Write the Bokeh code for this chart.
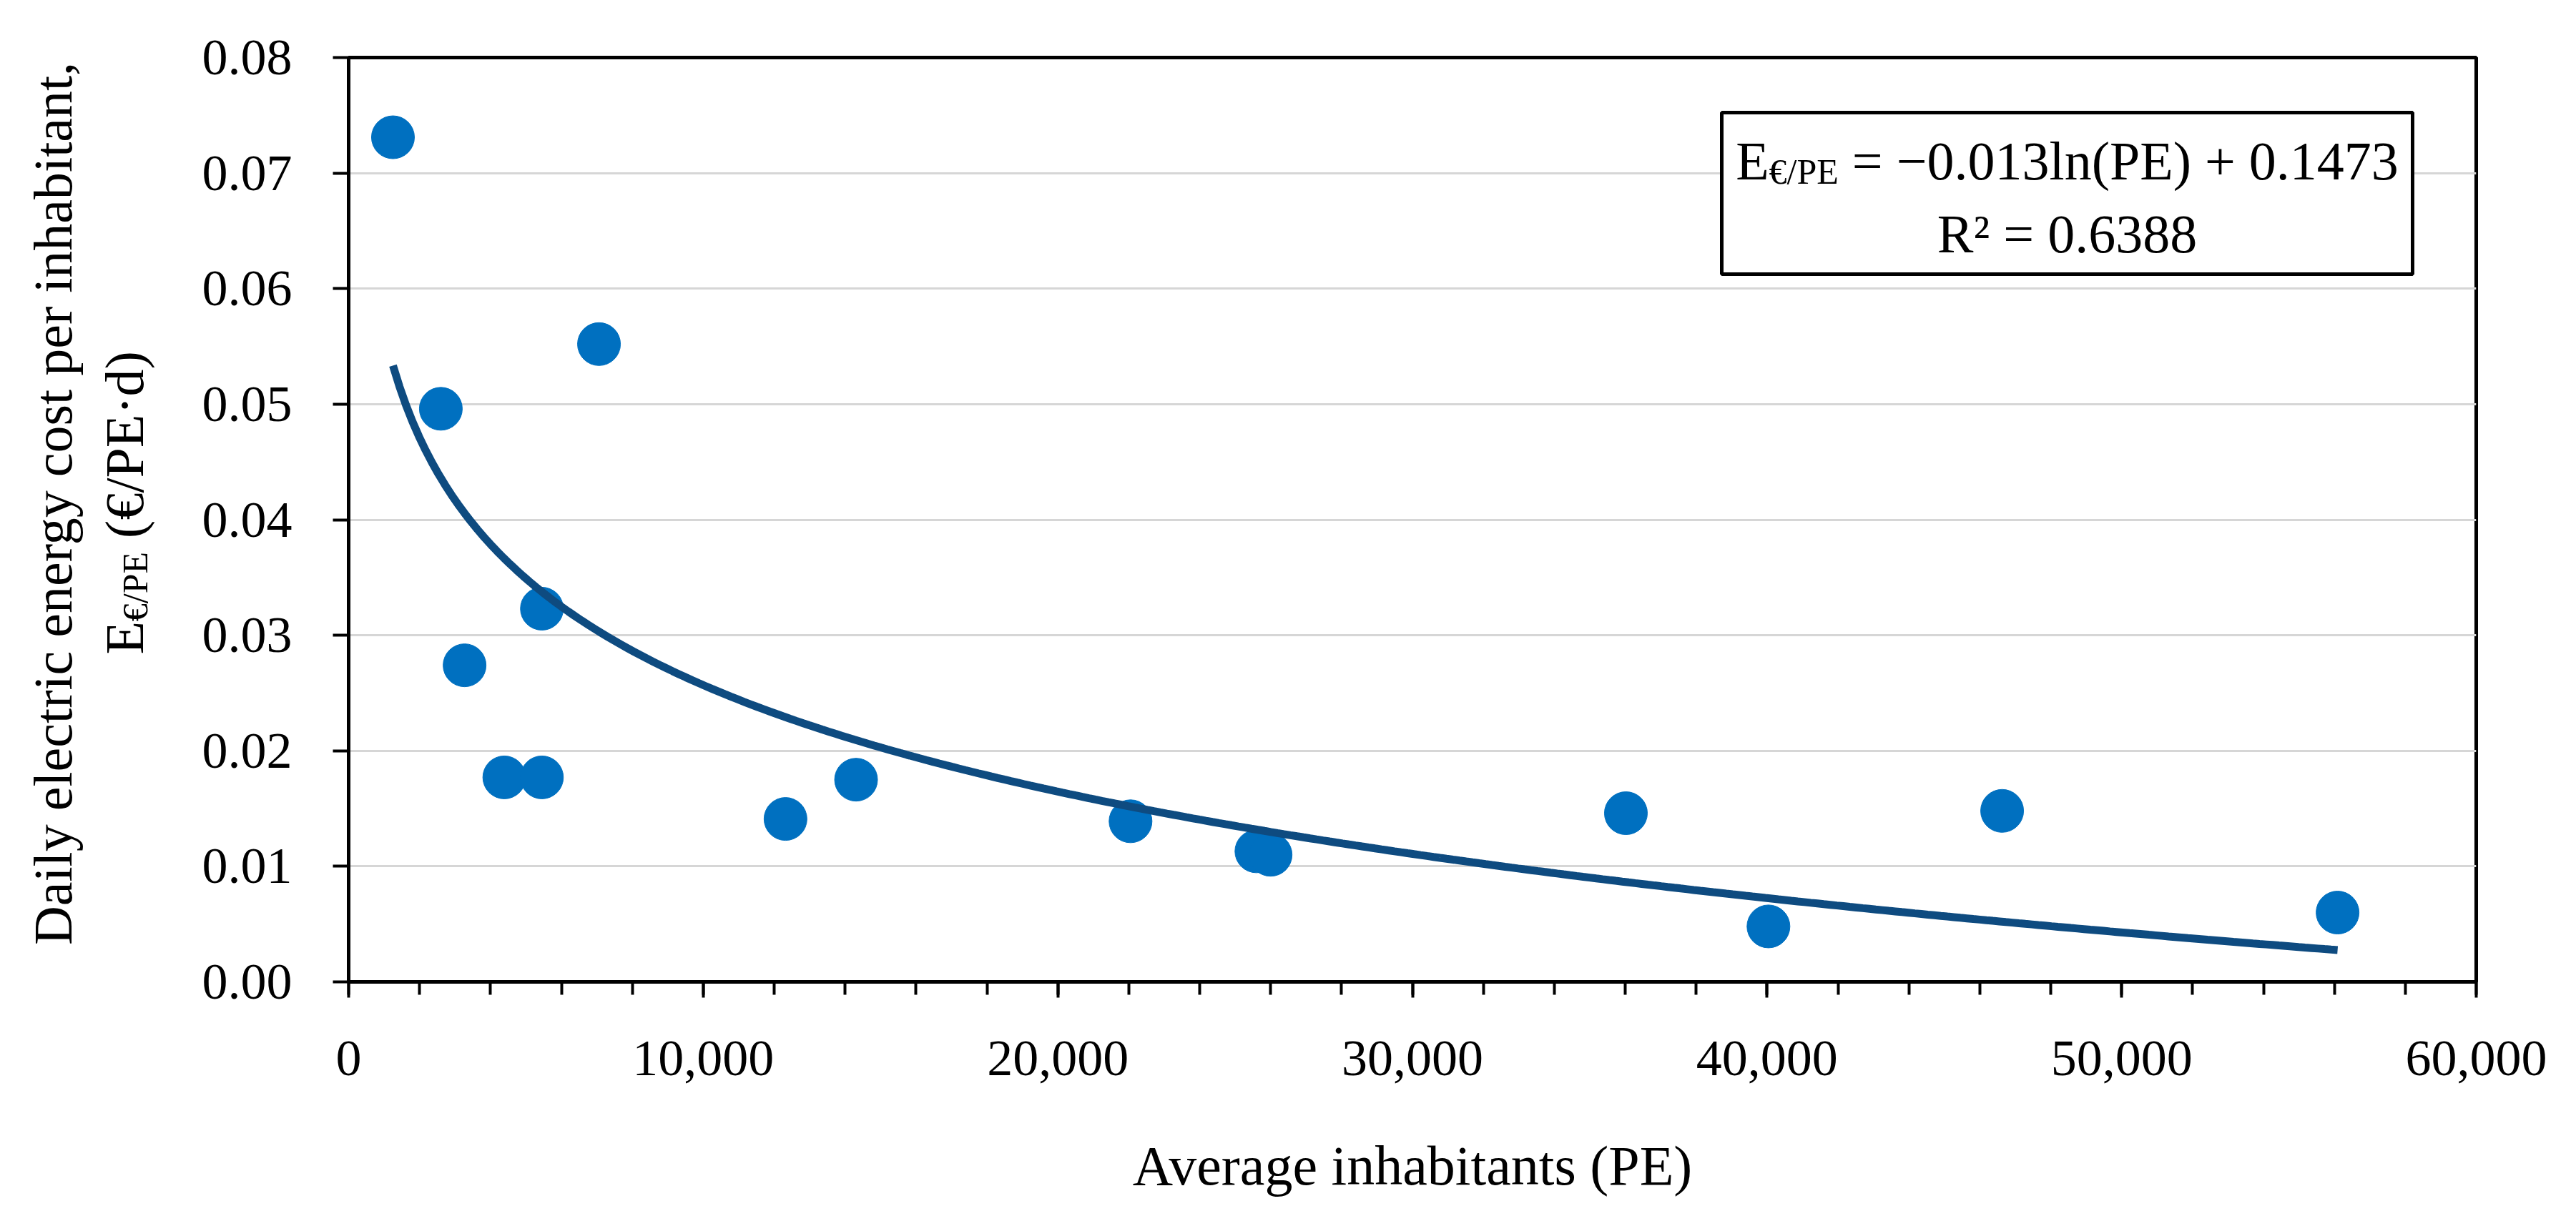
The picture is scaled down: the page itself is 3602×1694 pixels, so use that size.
import numpy as np
from math import pi
from bokeh.plotting import figure
from bokeh.layouts import row
from bokeh.models import (Range1d, SingleIntervalTicker, NumeralTickFormatter,
                          Label, BoxAnnotation, ColumnDataSource)
from bokeh.embed import file_html
from bokeh.resources import INLINE

# ---- data ----
pe = [1250, 2600, 3270, 4390, 5450, 5450, 7060, 12320, 14310,
      22050, 25600, 26000, 36020, 40040, 46630, 56090]
cost = [0.0731, 0.0496, 0.0274, 0.0177, 0.0177, 0.0323, 0.0552, 0.0141, 0.0175,
        0.0139, 0.0113, 0.0110, 0.0146, 0.0048, 0.0148, 0.0060]
x_ticks_interval = 10000
y_ticks_interval = 0.01
x_title = "Average inhabitants (PE)"
y_title_1 = "Daily electric energy cost per inhabitant,"
eq_main = "E"
eq_sub = "\u20ac/PE"
eq_rest = "\u00a0=\u00a0\u22120.013ln(PE)\u00a0+\u00a00.1473"
eq_r2 = "R\u00b2\u00a0=\u00a00.6388"
yt2_rest = "\u00a0(\u20ac/PE\u00b7d)"

# logarithmic trendline fitted to the points (as the spreadsheet does)
a, b = np.polyfit(np.log(pe), cost, 1)
trend_x = np.linspace(min(pe), max(pe), 300)
trend_y = a * np.log(trend_x) + b

# ---- layout geometry (page pixels) ----
W, H = 3586, 1678
LW = 232                       # width of the strip holding the y title
FL, FR, FT, FB = 487, 3462, 80, 1373
XMAX, YMAX = 60000, 0.08
FONT = "Liberation Serif"
BSHIFT = 24                    # correction: rendered baseline sits lower than anchor

def X(px):
    return (px - FL) / (FR - FL) * XMAX

def Y(py):
    return (FB - py) / (FB - FT) * YMAX

TW = {' ': .25, '\u00a0': .25, '(': .333, ')': .333, '\u20ac': .5, '/': .278,
      'P': .556, 'E': .611, '\u00b7': .25, 'd': .5, '=': .564, '\u2212': .564,
      '.': .25, 'l': .278, 'n': .5, '+': .564, 'R': .667, '\u00b2': .3}

def tw(s, size):
    return sum(TW.get(c, .5) for c in s) * size

# ---------------- main chart ----------------
p = figure(frame_width=FR - FL, frame_height=FB - FT,
           x_range=Range1d(0, XMAX), y_range=Range1d(0, YMAX),
           output_backend="svg", toolbar_location=None,
           min_border_left=FL - LW, min_border_right=W - FR,
           min_border_top=FT, min_border_bottom=H - FB)
p.background_fill_color = "white"
p.border_fill_color = "white"
p.outline_line_color = "black"
p.outline_line_width = 5

p.xgrid.visible = False
p.ygrid.grid_line_color = "#d6d6d6"
p.ygrid.grid_line_width = 3
p.ygrid.ticker = SingleIntervalTicker(interval=y_ticks_interval, num_minor_ticks=0)

p.xaxis.ticker = SingleIntervalTicker(interval=x_ticks_interval, num_minor_ticks=5)
p.yaxis.ticker = SingleIntervalTicker(interval=y_ticks_interval, num_minor_ticks=0)
p.xaxis.formatter = NumeralTickFormatter(format="0,0")
p.yaxis.formatter = NumeralTickFormatter(format="0.00")

for ax in (p.xaxis[0], p.yaxis[0]):
    ax.axis_line_color = "black"
    ax.axis_line_width = 5
    ax.major_tick_line_color = "black"
    ax.major_tick_line_width = 4
    ax.major_tick_in = 0
    ax.major_tick_out = 22
    ax.minor_tick_line_color = "black"
    ax.minor_tick_line_width = 4
    ax.minor_tick_in = 0
    ax.minor_tick_out = 18
    ax.major_label_text_font = FONT
    ax.major_label_text_font_size = "72px"
    ax.major_label_text_color = "black"

p.yaxis.major_label_standoff = 57
p.xaxis.major_label_standoff = 61
p.xaxis.axis_label = x_title
p.xaxis.axis_label_text_font = FONT
p.xaxis.axis_label_text_font_style = "normal"
p.xaxis.axis_label_text_font_size = "78px"
p.xaxis.axis_label_text_color = "black"
p.xaxis.axis_label_standoff = 80

src = ColumnDataSource(dict(pe=pe, cost=cost))
p.scatter("pe", "cost", source=src, size=60, fill_color="#0070C0",
          line_color="#0070C0", line_width=1)
p.line(trend_x, trend_y, line_color="#0E4B80", line_width=11)

# ---- equation box ----
BL, BR, BT, BB = 2407, 3373, 157, 383
M, S = 76, 50
p.add_layout(BoxAnnotation(left=X(BL), right=X(BR), top=Y(BT), bottom=Y(BB),
                           fill_color="white", fill_alpha=1.0,
                           line_color="black", line_width=5, line_alpha=1.0))
cx = (BL + BR) / 2
wE2, wS2, wR2 = tw(eq_main, M), tw(eq_sub, S), tw(eq_rest, M)
x0 = cx - (wE2 + wS2 + wR2) / 2
for txt, px, py, sz in ((eq_main, x0, 248, M), (eq_sub, x0 + wE2, 263, S),
                        (eq_rest, x0 + wE2 + wS2, 248, M)):
    p.add_layout(Label(x=X(px), y=Y(py - BSHIFT), text=txt, text_align="left",
                       text_baseline="alphabetic", text_font=FONT,
                       text_font_size=f"{sz}px", text_color="black"))
p.add_layout(Label(x=X(cx), y=Y(350 - BSHIFT), text=eq_r2, text_align="center",
                   text_baseline="alphabetic", text_font=FONT,
                   text_font_size=f"{M}px", text_color="black"))

# ---------------- strip with the y-axis title ----------------
# its frame spans the same page rows as the chart frame; data units = page pixels
lf = figure(frame_width=LW, frame_height=FB - FT,
            x_range=Range1d(0, LW), y_range=Range1d(FB, FT),
            output_backend="svg", toolbar_location=None,
            x_axis_location=None, y_axis_location=None,
            min_border_left=0, min_border_right=0,
            min_border_top=FT, min_border_bottom=H - FB)
lf.outline_line_color = None
lf.background_fill_color = "white"
lf.border_fill_color = "white"
lf.grid.visible = False

lf.add_layout(Label(x=97 - BSHIFT, y=704, text=y_title_1, angle=pi / 2,
                    text_align="center", text_baseline="alphabetic",
                    text_font=FONT, text_font_size=f"{M}px", text_color="black"))
wE, wS, wR = tw(eq_main, M), tw(eq_sub, S), tw(yt2_rest, M)
start = 706 + (wE + wS + wR) / 2
for txt, px, py, sz in ((eq_main, 197, start, M), (eq_sub, 212, start - wE, S),
                        (yt2_rest, 197, start - wE - wS, M)):
    lf.add_layout(Label(x=px - BSHIFT, y=py, text=txt, angle=pi / 2,
                        text_align="left", text_baseline="alphabetic",
                        text_font=FONT, text_font_size=f"{sz}px", text_color="black"))

layout = row(lf, p)
open("out.html", "w").write(file_html(layout, INLINE))
